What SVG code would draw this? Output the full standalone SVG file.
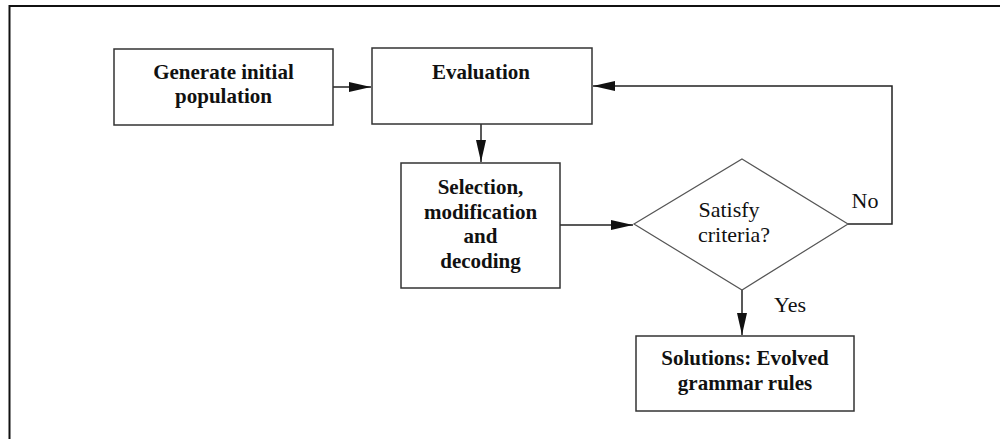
<svg xmlns="http://www.w3.org/2000/svg" width="1000" height="439" viewBox="0 0 1000 439">
<style>
.box{fill:#fff;stroke:#333;stroke-width:1.5}
.dia{fill:#fff;stroke:#555;stroke-width:1.2}
.t{font-family:'Liberation Serif','Times New Roman','DejaVu Serif',serif;font-size:21px;font-weight:bold;fill:#111;text-anchor:middle}
.r{font-family:'Liberation Serif','Times New Roman','DejaVu Serif',serif;font-size:22px;fill:#111;text-anchor:middle}
.c{fill:none;stroke:#222;stroke-width:1.5}
</style>
<defs>
<marker id="ah" markerUnits="userSpaceOnUse" markerWidth="22" markerHeight="10" refX="22" refY="5" orient="auto">
<path d="M0,0 L22,5 L0,10 z" fill="#111"/>
</marker>
</defs>
<rect x="0" y="0" width="1000" height="439" fill="#fff"/>
<rect x="9.5" y="6" width="1000" height="450" fill="none" stroke="#111" stroke-width="2"/>
<g id="connectors">
<line class="c" x1="333" y1="87" x2="371" y2="87" marker-end="url(#ah)"/>
<line class="c" x1="481" y1="124" x2="481" y2="162" marker-end="url(#ah)"/>
<line class="c" x1="560" y1="225" x2="633" y2="225" marker-end="url(#ah)"/>
<polyline class="c" points="848,224 892,224 892,86 593,86" marker-end="url(#ah)"/>
<line class="c" x1="742" y1="290" x2="742" y2="335" marker-end="url(#ah)"/>
</g>
<g id="n1">
<rect class="box" x="114" y="49" width="219" height="76"/>
<text class="t" x="223.5" y="79" font-family="Liberation Serif, serif">Generate initial</text>
<text class="t" x="223.5" y="103" font-family="Liberation Serif, serif">population</text>
</g>
<g id="n2">
<rect class="box" x="372" y="48" width="220" height="76"/>
<text class="t" x="481" y="79">Evaluation</text>
</g>
<g id="n3">
<rect class="box" x="401" y="163" width="159" height="125"/>
<text class="t" x="480.5" y="194">Selection,</text>
<text class="t" x="480.5" y="219">modification</text>
<text class="t" x="480.5" y="243">and</text>
<text class="t" x="480.5" y="268">decoding</text>
</g>
<g id="n4">
<polygon class="dia" points="742,159 848,224 742,290 634,224"/>
<text class="r" x="729" y="217">Satisfy</text>
<text class="r" x="734" y="242">criteria?</text>
</g>
<g id="n5">
<rect class="box" x="636" y="336" width="218" height="75"/>
<text class="t" x="745" y="365">Solutions: Evolved</text>
<text class="t" x="745" y="390">grammar rules</text>
</g>
<g id="labels">
<text class="r" x="865" y="208">No</text>
<text class="r" x="790" y="312">Yes</text>
</g>
</svg>
